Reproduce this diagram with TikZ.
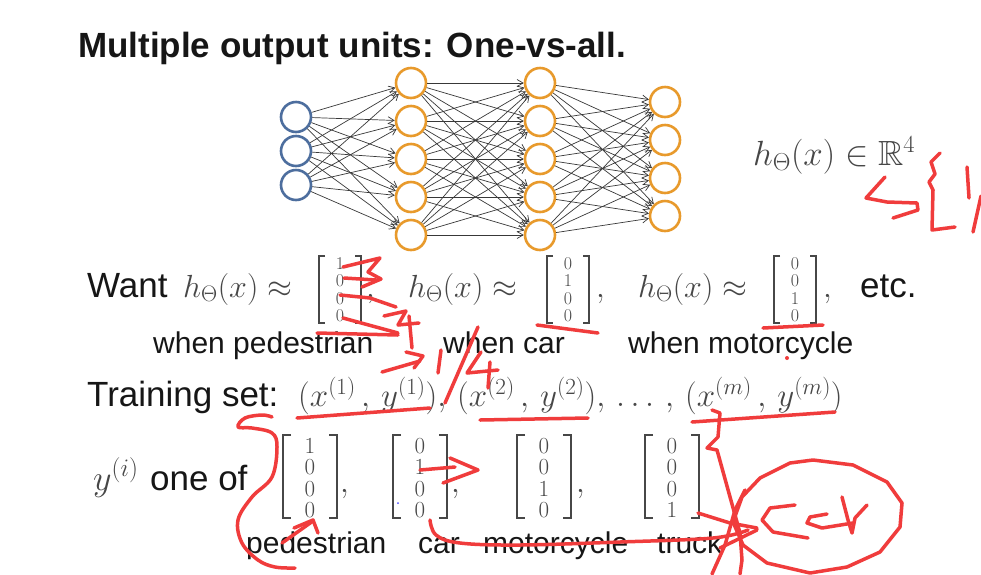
\RequirePackage{fix-cm}
\documentclass[tikz,border=0pt]{standalone}
\usepackage{amsmath,amssymb}
\usepackage{fontspec}
\setmainfont{Liberation Sans}
\usetikzlibrary{arrows.meta}
\definecolor{neuor}{HTML}{E89A2C}
\definecolor{neubl}{HTML}{4D6E9E}
\definecolor{pen}{HTML}{F03C3C}
\definecolor{mathgray}{HTML}{474747}
\definecolor{txt}{HTML}{161616}
\newcommand\vecsmall[6]{%
  \draw[brk] (#2-15,256) -- (#2-21,256) -- (#2-21,323) -- (#2-15,323);
  \draw[brk] (#2+15,256) -- (#2+21,256) -- (#2+21,323) -- (#2+15,323);
  \node[digs] (#1-1) at (#2,263.5) {$#3$};
  \node[digs] (#1-2) at (#2,281) {$#4$};
  \node[digs] (#1-3) at (#2,298.5) {$#5$};
  \node[digs] (#1-4) at (#2,316) {$#6$};
}
\newcommand\veclarge[6]{%
  \draw[brk] (#2-19,435) -- (#2-27,435) -- (#2-27,518) -- (#2-19,518);
  \draw[brk] (#2+19,435) -- (#2+27,435) -- (#2+27,518) -- (#2+19,518);
  \node[digl] (#1-1) at (#2,446) {$#3$};
  \node[digl] (#1-2) at (#2,467.5) {$#4$};
  \node[digl] (#1-3) at (#2,489) {$#5$};
  \node[digl] (#1-4) at (#2,510) {$#6$};
}
\begin{document}
\begin{tikzpicture}[x=1pt,y=-1pt,
  neuron/.style={circle, line width=2.6pt, minimum size=30pt, inner sep=0pt, fill=white},
  hid/.style={neuron, draw=neuor},
  inp/.style={neuron, draw=neubl},
  conn/.style={draw=black!78, line width=0.7pt, -{Straight Barb[length=6pt,width=7pt]}},
  big/.style={anchor=base west, inner sep=0pt, font=\fontsize{35}{40}\selectfont, text=txt},
  ttl/.style={anchor=base west, inner sep=0pt, font=\fontsize{35}{40}\selectfont\bfseries, text=txt},
  lbl/.style={anchor=base west, inner sep=0pt, font=\fontsize{30}{36}\selectfont, text=txt},
  mth/.style={anchor=base west, inner sep=0pt, font=\fontsize{32}{38}\selectfont, text=mathgray},
  digs/.style={inner sep=0pt, font=\fontsize{18}{18}\selectfont, text=mathgray},
  digl/.style={inner sep=0pt, font=\fontsize{23}{23}\selectfont, text=mathgray},
  brk/.style={draw=mathgray, line width=1.3pt},
  penline/.style={draw=pen, line width=3.5pt, line cap=round, line join=round}]
\useasboundingbox (0,0) rectangle (981,574);
\fill[white] (0,0) rectangle (981,574);

% title
\node[ttl] (title) at (78,57) {Multiple output units: One-vs-all.};

% network
\foreach \i/\y in {1/117,2/151,3/185} \node[inp] (in\i) at (296,\y) {};
\foreach \i/\y in {1/83,2/121,3/159,4/197,5/235} {
  \node[hid] (ha\i) at (411,\y) {};
  \node[hid] (hb\i) at (540,\y) {};
}
\foreach \i/\y in {1/102,2/140,3/178,4/216} \node[hid] (out\i) at (665,\y) {};
\foreach \i in {1,2,3} \foreach \j in {1,...,5} \draw[conn] (in\i) -- (ha\j);
\foreach \i in {1,...,5} \foreach \j in {1,...,5} \draw[conn] (ha\i) -- (hb\j);
\foreach \i in {1,...,5} \foreach \j in {1,...,4} \draw[conn] (hb\i) -- (out\j);

\node[mth, font=\fontsize{35}{40}\selectfont] (hr4) at (753,165) {$h_\Theta(x)\in\mathbb{R}^4$};

% Want line
\node[big] (want) at (87,297) {Want};
\node[mth] (h1) at (183,297) {$h_\Theta(x)\approx$};
\vecsmall{wa}{340}{1}{0}{0}{0}
\node[mth] (c1) at (366,297) {$,$};
\node[mth] (h2) at (408,297) {$h_\Theta(x)\approx$};
\vecsmall{wb}{568}{0}{1}{0}{0}
\node[mth] (c2) at (596,297) {$,$};
\node[mth] (h3) at (638,297) {$h_\Theta(x)\approx$};
\vecsmall{wc}{795}{0}{0}{1}{0}
\node[mth] (c3) at (823,297) {$,$};
\node[big] (etc) at (860,297) {etc.};
\node[lbl] (wped) at (153,353) {when pedestrian};
\node[lbl] (wcar) at (443,353) {when car};
\node[lbl] (wmot) at (628,353) {when motorcycle};

% Training set
\node[big] (train) at (87,406) {Training set:};
\node[mth, font=\fontsize{33}{38}\selectfont] (tset) at (298,406) {$(x^{(1)}\,,\,y^{(1)}),\,(x^{(2)}\,,\,y^{(2)}),\,\ldots\,,\,(x^{(m)}\,,\,y^{(m)})$};

% y one of
\node[mth, font=\fontsize{36}{40}\selectfont] (yi) at (93,490) {$y^{(i)}$};
\node[big] (oneof) at (150,490) {one of};
\veclarge{ya}{310}{1}{0}{0}{0}
\node[mth] (d1) at (340,492) {$,$};
\veclarge{yb}{420}{0}{1}{0}{0}
\node[mth] (d2) at (451,492) {$,$};
\veclarge{yc}{544}{0}{0}{1}{0}
\node[mth] (d3) at (576,492) {$,$};
\veclarge{yd}{672}{0}{0}{0}{1}
\node[lbl] (lped) at (246,553) {pedestrian};
\node[lbl] (lcar) at (418,553) {car};
\node[lbl] (lmot) at (483,553) {motorcycle};
\node[lbl] (ltru) at (657,553) {truck};
\fill[blue!70] (398,503) circle (1pt);

% red handwriting
\draw[penline] (885,177) -- (866,198) -- (887,202) -- (917,203) -- (918,210) -- (893,218);
\draw[penline] (940,153) -- (931,162) -- (935,174) -- (929,182) -- (933,190) -- (932,230) -- (955,227);
\draw[penline] (967,167) -- (969,198);
\draw[penline] (981,196) -- (973,232);

\draw[penline] (343,267) -- (380,258) -- (368,272) -- (381,279) -- (362,287);
\draw[penline] (344,278) -- (376,280);
\draw[penline] (340,295) -- (370,298) -- (396,307);
\draw[penline] (384,316) -- (406,311) -- (398,325) -- (419,323);
\draw[penline] (343,318) -- (398,333);
\draw[penline] (317,333) -- (398,335);
\draw[penline] (409,316) -- (412,348);
\draw[penline] (382,372) -- (420,361);
\draw[penline] (406,352) -- (423,356) -- (414,368);
\draw[penline] (441,350) -- (438,373);
\draw[penline] (478,327) -- (445,403);
\draw[penline] (481,352) -- (467,373) -- (498,370);
\draw[penline] (490,362) -- (488,388);
\draw[penline] (537,325) -- (598,333);
\draw[penline] (763,328) -- (823,325);
\fill[pen] (787,358) circle (2pt);

\draw[penline] (297,418) -- (430,408);
\draw[penline] (480,420) -- (588,418);
\draw[penline] (692,422) -- (835,412);

\draw[penline] plot[smooth, tension=0.6] coordinates {(272,417) (262,415) (245,418) (238,427) (252,428) (272,433) (277,447) (272,477) (252,497) (238,520) (242,543) (258,560) (275,567) (295,568)};
\draw[penline] (282,543) -- (313,521);
\draw[penline] (294,528) -- (313,520) -- (318,533);
\draw[penline] (420,470) -- (455,467);
\draw[penline] (450,458) -- (478,470) -- (443,483);
\draw[penline] plot[smooth, tension=0.6] coordinates {(430,520) (436,535) (460,543) (520,545) (620,542) (713,538) (748,530)};
\draw[penline] (712,410) -- (720,413) -- (718,437) -- (707,448) -- (717,450) -- (740,533) -- (742,560) -- (740,574);
\draw[penline] (698,513) -- (730,523) -- (757,528);
\draw[penline] (720,548) -- (757,530);
\draw[penline] (745,490) -- (735,510) -- (725,545) -- (712,574);
\draw[penline] (813,460) -- (853,465) -- (887,482) -- (902,503) -- (900,527) -- (880,552) -- (847,567) -- (810,573) -- (767,563) -- (743,545) -- (733,522) -- (742,497) -- (760,478) -- (790,463) -- cycle;
\draw[penline] (795,505) -- (770,508) -- (762,520) -- (773,532) -- (808,538);
\draw[penline] (827,514) -- (810,517) -- (807,523) -- (822,528) -- (853,523);
\draw[penline] (842,497) -- (848,520) -- (852,533) -- (855,518) -- (867,505);
\end{tikzpicture}
\end{document}
